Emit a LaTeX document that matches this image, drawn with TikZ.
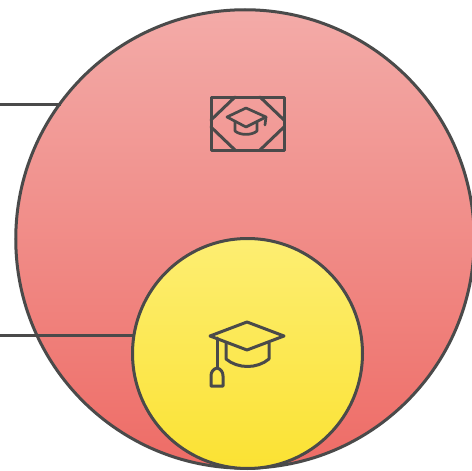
\documentclass[tikz,border=0pt]{standalone}
\definecolor{inkc}{HTML}{4A4A4A}
\definecolor{redtop}{HTML}{F3ABA8}
\definecolor{redbot}{HTML}{EE6C66}
\definecolor{yeltop}{HTML}{FDEE72}
\definecolor{yelbot}{HTML}{FBE233}
\tikzset{
  ring/.style={circle,draw=inkc,line width=3pt,inner sep=0pt,outer sep=0pt},
  redring/.style={ring,minimum size=458.5pt,top color=redtop,bottom color=redbot},
  yelring/.style={ring,minimum size=230pt,top color=yeltop,bottom color=yelbot},
  linkline/.style={draw=inkc,line width=3pt,shorten >=1pt},
  icon/.style={draw=inkc,line width=3pt,line join=round,line cap=round}
}
\begin{document}
\begin{tikzpicture}[x=1pt,y=-1pt]
\clip (0,0) rectangle (472,471);
\fill[white] (0,0) rectangle (472,471);
\coordinate (a) at (0,104);
\coordinate (b) at (0,335);
\node[redring] (big) at (245,239) {};
\draw[linkline] (a) -- (a -| big.143.9);
\node[yelring] (small) at (247.5,353.5) {};
\draw[linkline] (b) -- (b -| small.170.75);
% framed icon
\draw[icon] (211,97) rectangle (284,150);
\draw[icon] (235,97) -- (211,120) (211,127) -- (235,150)
  (260,97) -- (284,120) (284,127) -- (260,150);
\draw[icon,line width=2.7pt] (227,117) -- (246,108) -- (266,117) -- (246,127) -- cycle;
\draw[icon,line width=2.7pt] (235,122) -- (235,131) .. controls (240,135.5) and (252,135.5) .. (257,131) -- (257,122);
\draw[icon,line width=2.7pt] (266,117) -- (265,125);
% large icon
\draw[icon] (210,336) -- (247,322) -- (284,336) -- (247,350) -- cycle;
\draw[icon] (226,343) -- (226,359) .. controls (238,369) and (257,369) .. (269,359) -- (269,343);
\draw[icon] (217,338) -- (217,368);
\draw[icon] (217,368) .. controls (213,369) and (211,372) .. (211,376) -- (211,386) -- (223,386) -- (223,376) .. controls (223,372) and (221,369) .. (217,368) -- cycle;
\end{tikzpicture}
\end{document}
